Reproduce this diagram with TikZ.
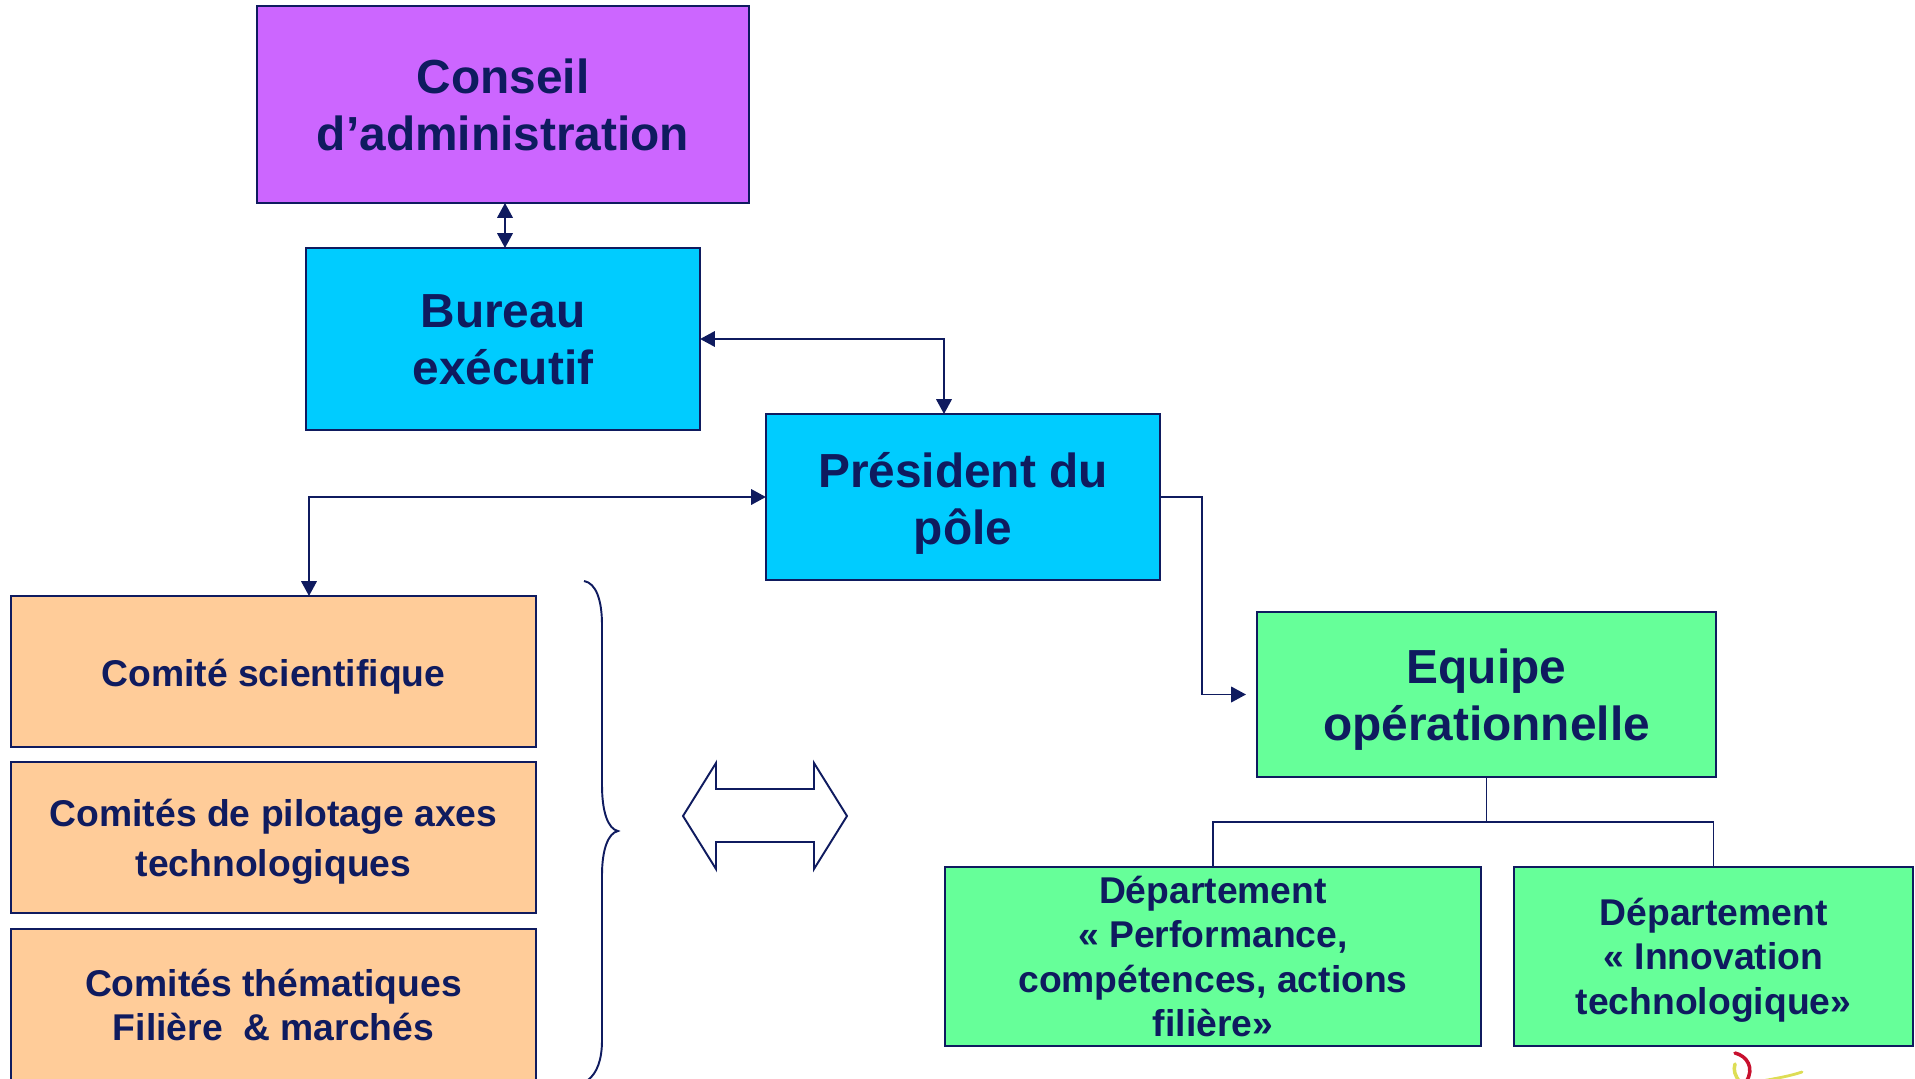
\documentclass[tikz,border=0pt]{standalone}
\usepackage{fontspec}
\setmainfont{Liberation Sans}
\usetikzlibrary{arrows.meta}
\definecolor{navy}{HTML}{0F1B5F}
\definecolor{purplebox}{HTML}{CC66FF}
\definecolor{bluebox}{HTML}{00CCFF}
\definecolor{orangebox}{HTML}{FFCC99}
\definecolor{greenbox}{HTML}{66FF99}
\definecolor{logored}{HTML}{C8102E}
\definecolor{logoyellow}{HTML}{DDDD55}
\newcommand{\droptext}[1]{\rule{0pt}{#1}}
\tikzset{
    orgbox/.style={draw=navy,line width=0.55pt,inner sep=0pt,outer sep=0pt,align=center,text=navy,font=\bfseries},
    bigbox/.style={orgbox,font=\fontsize{13.6}{16.2}\selectfont\bfseries},
    comitebox/.style={orgbox,fill=orangebox,minimum width=5.25cm,minimum height=1.51cm},
    deptbox/.style={orgbox,fill=greenbox,minimum height=1.79cm,font=\fontsize{10.6}{12.7}\selectfont\bfseries},
    link/.style={navy,line width=0.55pt},
    arrowlink/.style={link,-{Triangle[length=4.2pt,width=4.4pt]}},
    bothlink/.style={link,{Triangle[length=4.2pt,width=4.4pt]}-{Triangle[length=4.2pt,width=4.4pt]}},
}
\begin{document}
\begin{tikzpicture}[x=0.01cm,y=-0.01cm]
    \useasboundingbox (0,0) rectangle (1915,1079);
    \clip (0,0) rectangle (1915,1079);
    % top of the chart
    \node[bigbox,fill=purplebox,minimum width=4.92cm,minimum height=1.97cm] (conseil) at (503,104.5) {Conseil\\d’administration};
    \node[bigbox,fill=bluebox,minimum width=3.94cm,minimum height=1.82cm] (bureau) at (503,339) {\droptext{9.9pt}Bureau\\exécutif};
    \node[bigbox,fill=bluebox,minimum width=3.94cm,minimum height=1.66cm] (president) at (963,497) {\droptext{13.5pt}Président du\\pôle};
    \node[bigbox,fill=greenbox,minimum width=4.59cm,minimum height=1.65cm] (equipe) at (1486.5,694.5) {\droptext{12.6pt}Equipe\\opérationnelle};
    % committees
    \node[comitebox,font=\fontsize{10.6}{13.3}\selectfont\bfseries] (scientifique) at (273.5,671.5) {\droptext{10.6pt}Comité scientifique};
    \node[comitebox,font=\fontsize{10.6}{14.2}\selectfont\bfseries] (pilotage) at (273.5,837.5) {\droptext{10.1pt}Comités de pilotage axes\\technologiques};
    \node[comitebox,font=\fontsize{10.6}{12.7}\selectfont\bfseries] (thematiques) at (273.5,1005) {Comités thématiques\\Filière~~\& marchés};
    % departments
    \node[deptbox,minimum width=5.36cm] (performance) at (1213,956.5) {Département\\« Performance,\\compétences, actions\\filière»};
    \node[deptbox,minimum width=3.99cm] (innovation) at (1713.5,956.5) {\droptext{9.8pt}Département\\« Innovation\\technologique»};

    \coordinate (conseilfoot) at (505,203);
    \coordinate (bureauhead) at (505,248);
    \coordinate (presidenttop) at (944,414);
    \coordinate (comitetop) at (309,596);
    \coordinate (equipein) at (1246,694.5);
    \coordinate (elbow) at (1202,497);
    \coordinate (fork) at (1486.5,822);

    \draw[bothlink] (conseilfoot) -- (bureauhead);
    \draw[bothlink] (bureau.east) -| (presidenttop);
    \draw[bothlink] (comitetop) |- (president.west);
    \draw[arrowlink] (president.east) -- (elbow) |- (equipein);
    \draw[link] (equipe.south) -- (fork);
    \draw[link] (performance.north) |- (fork) -| (innovation.north);

    % brace and hollow arrow
    \draw[link] (584,581) .. controls (596,583) and (602,600) .. (602,625)
        -- (602,785) .. controls (602,812) and (608,829) .. (618,831)
        .. controls (608,833) and (602,850) .. (602,875)
        -- (602,1040) .. controls (602,1060) and (597,1073) .. (588,1080);
    \draw[link,line join=miter] (683,816) -- (716,763) -- (716,789) -- (814,789) -- (814,763) -- (847,816)
        -- (814,869) -- (814,842) -- (716,842) -- (716,869) -- cycle;

    % bit of the logo under the last box
    \draw[logoyellow,line width=1pt,line cap=round] (1735,1064) .. controls (1733,1070) and (1735,1076) .. (1740,1082);
    \draw[logoyellow,line width=0.8pt,line cap=round] (1802,1072) .. controls (1790,1076) and (1778,1078) .. (1762,1081);
    \draw[logored,line width=1pt,line cap=round] (1735,1053) .. controls (1747,1056) and (1755,1068) .. (1746,1082);
\end{tikzpicture}
\end{document}
